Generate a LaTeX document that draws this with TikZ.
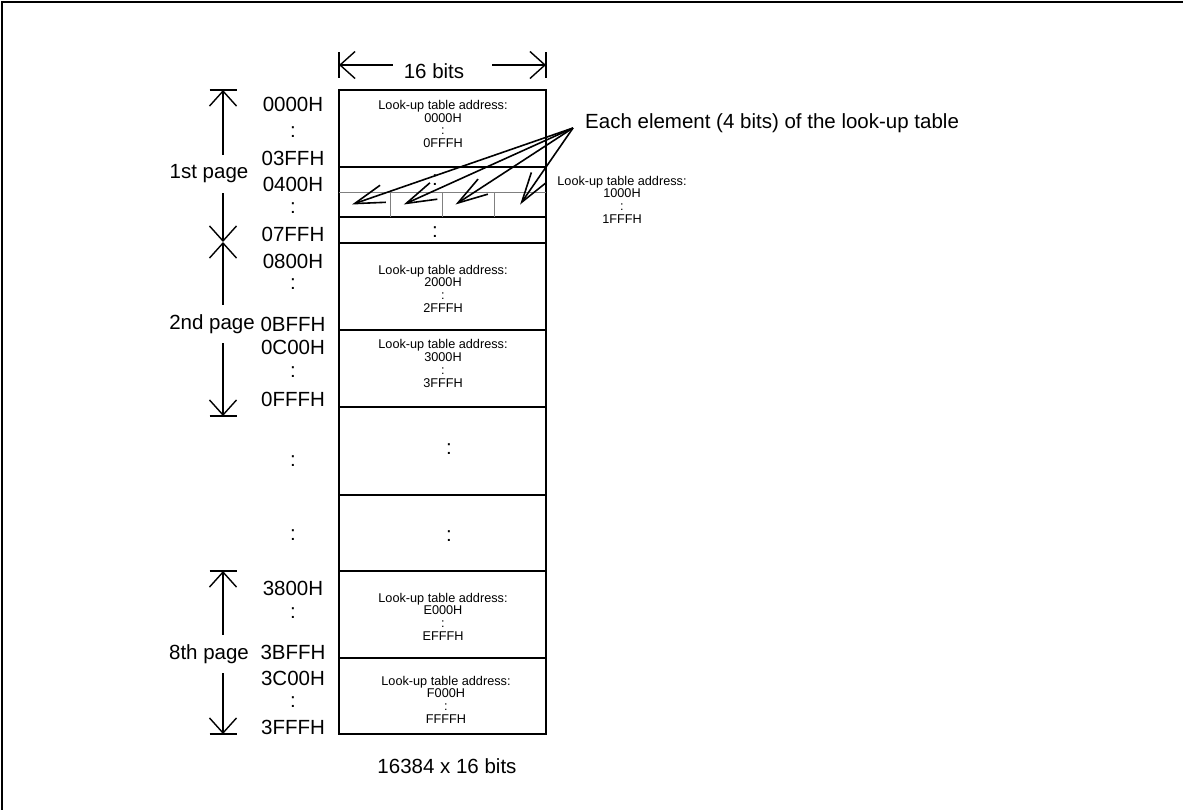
\documentclass[tikz,border=0pt]{standalone}
\usepackage{fontspec}
\setmainfont{Liberation Sans}
\usetikzlibrary{arrows.meta,positioning}

\begin{document}
\begin{tikzpicture}[x=1pt,y=-1pt,
		big/.style={font=\fontsize{20.5}{24}\selectfont,inner sep=0pt},
		small/.style={font=\fontsize{12.7}{12.7}\selectfont,align=center,inner sep=0pt},
		row/.style={draw,line width=1.7pt,minimum width=207pt,outer sep=0pt,inner sep=0pt},
		cell/.style={minimum width=51.75pt,minimum height=25pt,outer sep=0pt,inner sep=0pt},
		grid line/.style={draw=gray,line width=0.9pt},
		page label/.style={big,minimum height=38pt},
		page arrow/.style={-{Straight Barb[length=15pt,width=27pt]},line width=1.4pt},
		elem arrow/.style={-{Straight Barb[length=30pt,width=18pt]},line width=1.6pt},
		bar/.style={line width=1.4pt}]
		
		\useasboundingbox (0,0) rectangle (1183,809);
		\draw[line width=2.6pt] (2,820) -- (2,2) -- (1190,2);
		
		% memory rows
		\node[row,minimum height=77pt,anchor=north] (r1) at (442.5,90) {};
		\node[row,minimum height=50pt,below=0pt of r1] (r2) {};
		\node[row,minimum height=26pt,below=0pt of r2] (r3) {};
		\node[row,minimum height=87pt,below=0pt of r3] (r4) {};
		\node[row,minimum height=77pt,below=0pt of r4] (r5) {};
		\node[row,minimum height=88pt,below=0pt of r5] (r6) {};
		\node[row,minimum height=76pt,below=0pt of r6] (r7) {};
		\node[row,minimum height=87pt,below=0pt of r7] (r8) {};
		\node[row,minimum height=76pt,below=0pt of r8] (r9) {};
		
		% 4-bit cells
		\node[cell,anchor=south west] (c1) at (r2.south west) {};
		\node[cell,right=0pt of c1] (c2) {};
		\node[cell,right=0pt of c2] (c3) {};
		\node[cell,right=0pt of c3] (c4) {};
		\draw[grid line] (c1.north west) -- (c4.north east);
		\foreach \i in {1,2,3}
			\draw[grid line] (c\i.north east) -- (c\i.south east);
		
		% table contents
		\node[small] (t0) at (443,124) {Look-up table address:\\0000H\\:\\0FFFH};
		\node[small] (t1) at (622,199.5) {Look-up table address:\\1000H\\:\\1FFFH};
		\node[small] (t2) at (443,288.5) {Look-up table address:\\2000H\\:\\2FFFH};
		\node[small] (t3) at (443,363.5) {Look-up table address:\\3000H\\:\\3FFFH};
		\node[small] (te) at (443,616.5) {Look-up table address:\\E000H\\:\\EFFFH};
		\node[small] (tf) at (446,699.5) {Look-up table address:\\F000H\\:\\FFFFH};
		\node[big] (d1) at (435,180) {:};
		\node[big] (d2) at (435,232) {:};
		\node[big] (d3) at (449,449) {:};
		\node[big] (d4) at (449,536) {:};
		
		% addresses
		\foreach \y/\t in {104/0000H,132/:,158/03FFH,184/0400H,208/:,234/07FFH,
				261/0800H,284/:,324/0BFFH,347/0C00H,372/:,399/0FFFH,461/:,535/:,
				588/3800H,613/:,652/3BFFH,678/3C00H,702/:,727/3FFFH}
			\node[big] (a\y) at (293,\y) {\t};
		
		% pages
		\node[page label] (p1) at (209,174) {1st page};
		\node[page label] (p2) at (212,324) {2nd page};
		\node[page label] (p8) at (209,654) {8th page};
		\coordinate (top1) at (223,90);
		\coordinate (mid12) at (223,242);
		\coordinate (bot2) at (223,416);
		\coordinate (top8) at (223,571);
		\coordinate (bot8) at (223,734);
		\draw[page arrow] (p1.north -| top1) -- (top1);
		\draw[page arrow] (p1.south -| top1) -- (mid12);
		\draw[page arrow] (p2.north -| top1) -- (mid12);
		\draw[page arrow] (p2.south -| top1) -- (bot2);
		\draw[page arrow] (p8.north -| top1) -- (top8);
		\draw[page arrow] (p8.south -| top1) -- (bot8);
		\foreach \c in {top1,bot2,top8,bot8}
			\draw[bar] ([xshift=-13.5pt]\c) -- ([xshift=13.5pt]\c);
		
		% width
		\node[big,inner xsep=11pt] (w16) at (434,71) {16 bits};
		\coordinate (w16e) at ([xshift=17pt]w16.east);
		\coordinate (l16) at (339,65);
		\coordinate (r16) at (546,65);
		\draw[page arrow] (w16.west |- l16) -- (l16);
		\draw[page arrow] (w16e |- r16) -- (r16);
		\foreach \c in {l16,r16}
			\draw[bar] ([yshift=13pt]\c) -- ([yshift=-13pt]\c);
		
		% elements
		\node[big,anchor=west] (elem) at (585,123) {Each element (4 bits) of the look-up table};
		\coordinate (src) at ([xshift=-12pt,yshift=-5pt]elem.west);
		\draw[elem arrow] (src) -- ([xshift=13pt]c1.west);
		\draw[elem arrow] (src) -- ([xshift=13pt]c2.west);
		\draw[elem arrow] (src) -- ([xshift=13pt]c3.west);
		\draw[elem arrow] (src) -- (c4.center);
		
		\node[big] (size) at (447,766) {16384 x 16 bits};
\end{tikzpicture}
\end{document}
